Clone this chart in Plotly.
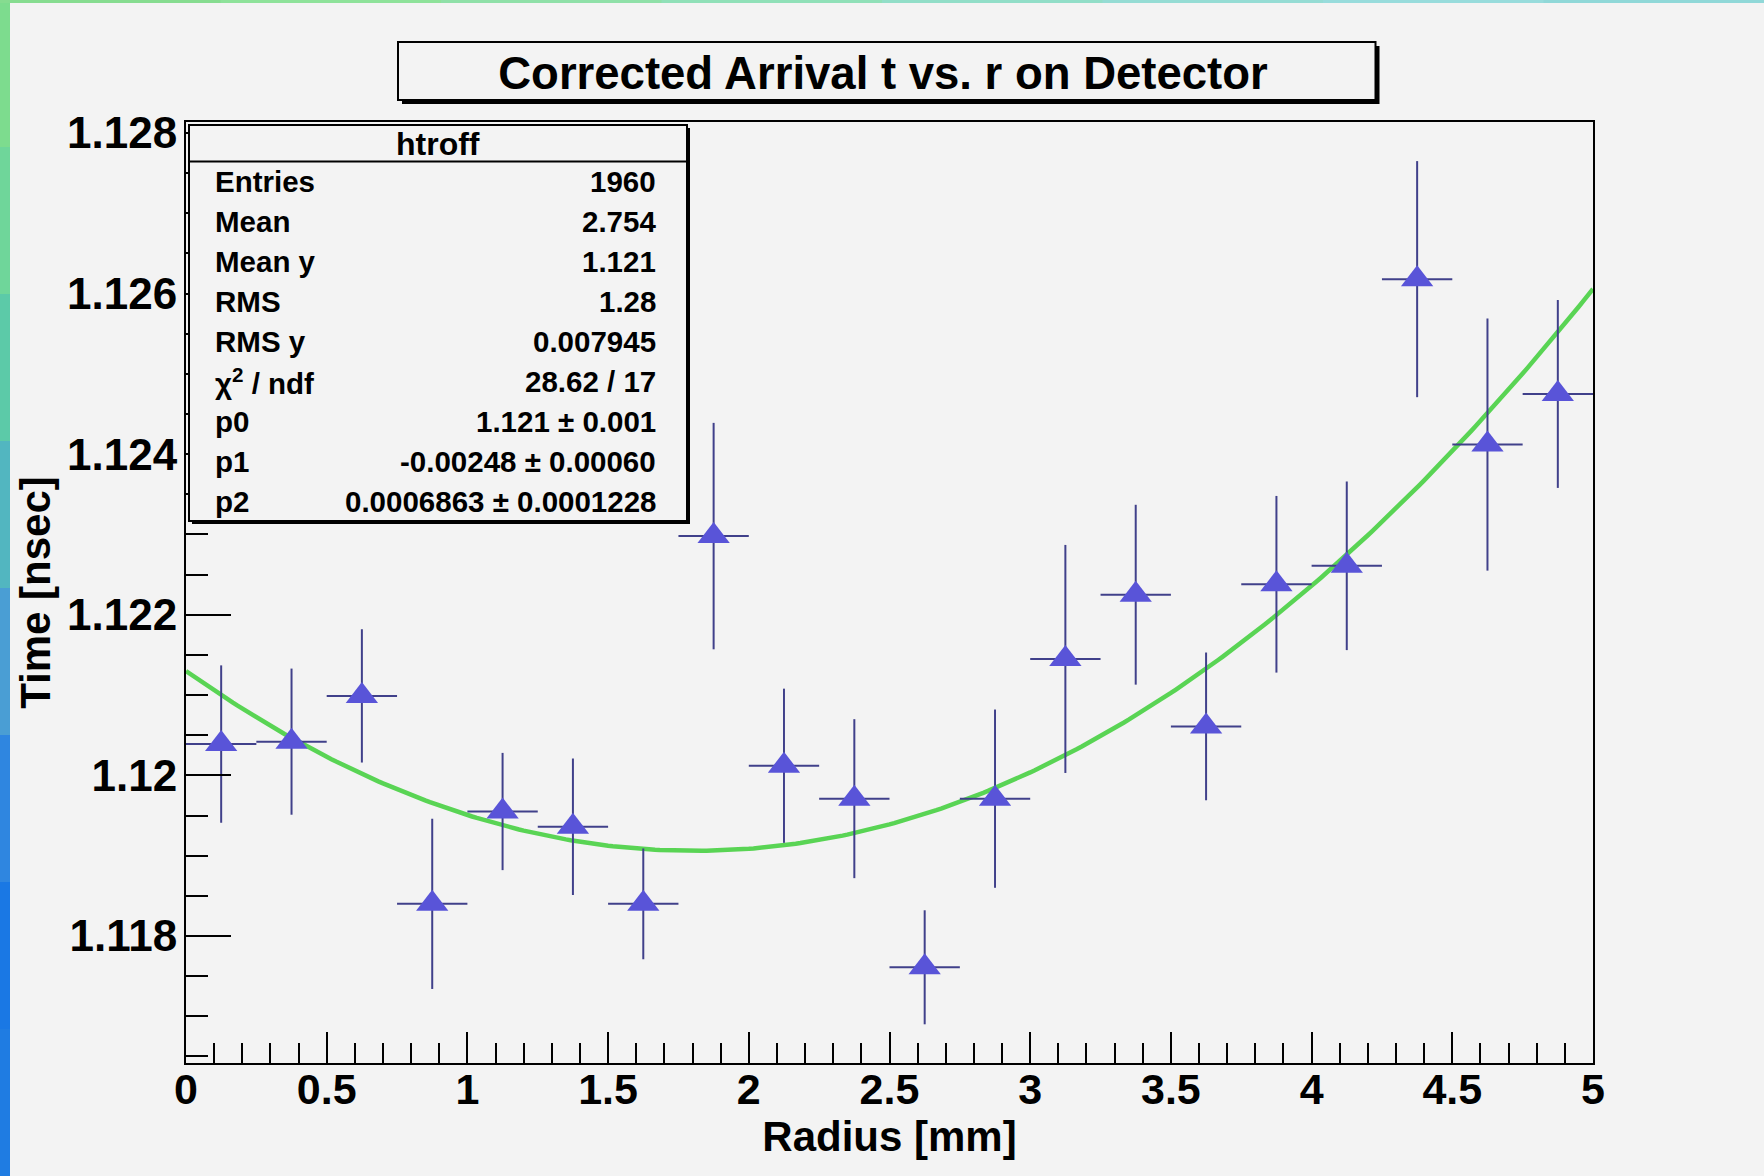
import numpy as np
import plotly.graph_objects as go

# ---------------- data ----------------
radius_mm = [0.125, 0.375, 0.625, 0.875, 1.125, 1.375, 1.625, 1.875, 2.125, 2.375,
             2.625, 2.875, 3.125, 3.375, 3.625, 3.875, 4.125, 4.375, 4.625, 4.875]
time_nsec = [1.12039, 1.12042, 1.12099, 1.11840, 1.11955, 1.11936, 1.11840, 1.12298, 1.12012, 1.11971,
             1.11761, 1.11971, 1.12145, 1.12225, 1.12061, 1.12238, 1.12261, 1.12618, 1.12412, 1.12475]
time_err = [0.00098, 0.00091, 0.00083, 0.00106, 0.00073, 0.00085, 0.00069, 0.00141, 0.00096, 0.00099,
            0.00071, 0.00111, 0.00142, 0.00112, 0.00092, 0.00110, 0.00105, 0.00147, 0.00157, 0.00117]
bin_half_width = 0.125

# pol2 fit parameters (p0, p1, p2) as shown in the stats box
fit_params = [1.1213, -0.00248, 0.0006863]
fit_range = [0.0, 5.0]

x_tick_vals = [0, 0.5, 1, 1.5, 2, 2.5, 3, 3.5, 4, 4.5, 5]
x_tick_text = ["0", "0.5", "1", "1.5", "2", "2.5", "3", "3.5", "4", "4.5", "5"]
y_tick_vals = [1.118, 1.120, 1.122, 1.124, 1.126, 1.128]
y_tick_text = ["1.118", "1.12", "1.122", "1.124", "1.126", "1.128"]

stats_title = "htroff"
stats_labels = ["Entries", "Mean", "Mean y", "RMS", "RMS y", "χ<sup>2</sup> / ndf", "p0", "p1", "p2"]
stats_values = ["1960", "2.754", "1.121", "1.28", "0.007945", "28.62 / 17",
                "1.121 ± 0.001", "-0.00248 ± 0.00060", "0.0006863 ± 0.0001228"]

title_text = "Corrected Arrival t vs. r on Detector"
x_title = "Radius [mm]"
y_title = "Time [nsec]"

# ---------------- layout geometry (pixels) ----------------
W, H = 1764, 1176
L, R, T, B = 186, 1593, 122, 1063
Y_RANGE = [1.116418, 1.128137]
FONT = "Liberation Sans, Arial, Helvetica, sans-serif"
BG = "#f3f3f3"


def xp(px):
    return (px - L) / (R - L)


def yp(py):
    return (B - py) / (B - T)


fig = go.Figure()

# fit curve
p0, p1, p2 = fit_params
fx = np.linspace(fit_range[0], fit_range[1], 301)
fy = p0 + p1 * fx + p2 * fx ** 2
fig.add_trace(go.Scatter(x=fx, y=fy, mode="lines",
                         line=dict(color="#59d454", width=4.5),
                         hoverinfo="skip", showlegend=False))

# data points with error bars
fig.add_trace(go.Scatter(
    x=radius_mm, y=time_nsec, mode="markers",
    marker=dict(symbol="triangle-up", size=28, color="#5954d8", line=dict(width=0)),
    error_x=dict(type="constant", value=bin_half_width, width=0, thickness=2, color="#40408a"),
    error_y=dict(type="data", array=time_err, width=0, thickness=2, color="#40408a"),
    showlegend=False))

shapes = []

# decorative page edges (gradient strip on left and top)
left_cols = ["#7ddc8e", "#6fd69a", "#5ccaa8", "#52b6c0", "#4a9ed4", "#2f86e0", "#1a78e4", "#1f7ce2"]
seg = H / len(left_cols)
for i, c in enumerate(left_cols):
    shapes.append(dict(type="rect", xref="paper", yref="paper",
                       x0=xp(0), x1=xp(10), y0=yp(i * seg), y1=yp((i + 1) * seg + 1),
                       fillcolor=c, line=dict(width=0), layer="above"))
top_cols = ["#86dc90", "#8ee29a", "#8fe0a8", "#90e0b8", "#92dec8", "#95dcd4", "#98dcdc", "#90d8d8"]
segw = W / len(top_cols)
for i, c in enumerate(top_cols):
    shapes.append(dict(type="rect", xref="paper", yref="paper",
                       x0=xp(i * segw), x1=xp((i + 1) * segw + 1), y0=yp(3), y1=yp(0),
                       fillcolor=c, line=dict(width=0), layer="above"))

# title box with shadow
tb = (398, 42, 1375.5, 100)
shapes.append(dict(type="rect", xref="paper", yref="paper",
                   x0=xp(tb[0] + 4), x1=xp(tb[2] + 4), y0=yp(tb[3] + 4), y1=yp(tb[1] + 4),
                   fillcolor="black", line=dict(width=0), layer="above"))
shapes.append(dict(type="rect", xref="paper", yref="paper",
                   x0=xp(tb[0]), x1=xp(tb[2]), y0=yp(tb[3]), y1=yp(tb[1]),
                   fillcolor=BG, line=dict(color="black", width=2), layer="above"))

# stats box with shadow
sb = (189, 125, 687, 521)
shapes.append(dict(type="rect", xref="paper", yref="paper",
                   x0=xp(sb[0] + 3), x1=xp(sb[2] + 3), y0=yp(sb[3] + 3), y1=yp(sb[1] + 3),
                   fillcolor="black", line=dict(width=0), layer="above"))
shapes.append(dict(type="rect", xref="paper", yref="paper",
                   x0=xp(sb[0]), x1=xp(sb[2]), y0=yp(sb[3]), y1=yp(sb[1]),
                   fillcolor=BG, line=dict(color="black", width=2), layer="above"))
shapes.append(dict(type="line", xref="paper", yref="paper",
                   x0=xp(sb[0]), x1=xp(sb[2]), y0=yp(161.5), y1=yp(161.5),
                   line=dict(color="black", width=2), layer="above"))

annotations = [dict(text=stats_title, x=xp((sb[0] + sb[2]) / 2), y=yp(143.5),
                    xref="paper", yref="paper", xanchor="center", yanchor="middle",
                    showarrow=False, font=dict(family=FONT, size=32, color="black", weight="bold"))]
row_h = (sb[3] - 161.5) / len(stats_labels)
for i, (lab, val) in enumerate(zip(stats_labels, stats_values)):
    yc = 161.5 + (i + 0.5) * row_h
    annotations.append(dict(text=lab, x=xp(213), y=yp(yc), xref="paper", yref="paper",
                            xanchor="left", yanchor="middle", showarrow=False,
                            font=dict(family=FONT, size=29.5, color="black", weight="bold")))
    annotations.append(dict(text=val, x=xp(658), y=yp(yc), xref="paper", yref="paper",
                            xanchor="right", yanchor="middle", showarrow=False,
                            font=dict(family=FONT, size=29.5, color="black", weight="bold")))

fig.update_layout(
    width=W, height=H,
    margin=dict(l=L, r=W - R, t=T, b=H - B, pad=0, autoexpand=False),
    paper_bgcolor=BG, plot_bgcolor=BG,
    title=dict(text=title_text, x=883 / W, xanchor="center", y=1 - 73 / H, yanchor="middle",
               font=dict(family=FONT, size=45.5, color="black", weight="bold")),
    shapes=shapes, annotations=annotations,
    xaxis=dict(range=[0, 5], tickmode="array", tickvals=x_tick_vals, ticktext=x_tick_text,
               ticks="inside", ticklen=31, tickwidth=2, tickcolor="black",
               minor=dict(tickmode="linear", tick0=0, dtick=0.1, ticks="inside", ticklen=20,
                          tickwidth=2, tickcolor="black", showgrid=False),
               showline=True, linewidth=2, linecolor="black", mirror=True, automargin=False,
               showgrid=False, zeroline=False, ticklabelstandoff=-13,
               tickfont=dict(family=FONT, size=43, color="black", weight="bold"),
               title=dict(text=x_title, standoff=10,
                          font=dict(family=FONT, size=42, color="black", weight="bold"))),
    yaxis=dict(range=Y_RANGE, tickmode="array", tickvals=y_tick_vals, ticktext=y_tick_text,
               ticks="inside", ticklen=45, tickwidth=2, tickcolor="black",
               minor=dict(tickmode="linear", tick0=1.118, dtick=0.0005, ticks="inside", ticklen=22,
                          tickwidth=2, tickcolor="black", showgrid=False),
               showline=True, linewidth=2, linecolor="black", mirror=True, automargin=False,
               showgrid=False, zeroline=False, ticklabelstandoff=-2,
               tickfont=dict(family=FONT, size=44, color="black", weight="bold"),
               title=dict(text=y_title, standoff=3,
                          font=dict(family=FONT, size=42, color="black", weight="bold"))),
)

fig.write_html("out.html")
